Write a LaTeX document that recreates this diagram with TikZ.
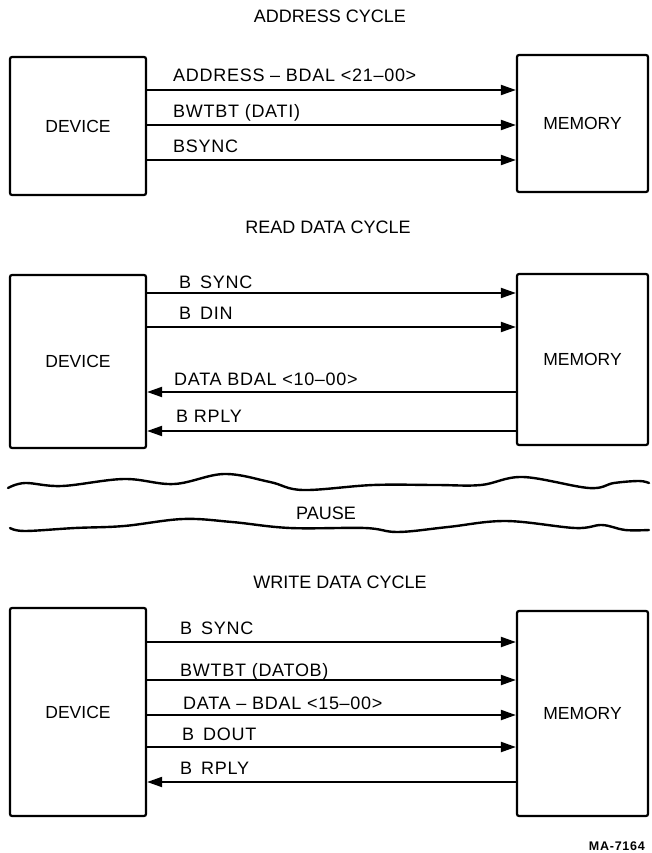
\documentclass[tikz,border=0pt]{standalone}
\usepackage{fontspec}
\setmainfont{Liberation Sans}
\newfontfamily\lblfont[LetterSpace=4]{Liberation Sans}
\usetikzlibrary{arrows.meta}
\begin{document}
\begin{tikzpicture}[x=1pt,y=-1pt,
  box/.style={draw,line width=2.2pt,rounded corners=2pt,inner sep=0pt,font=\fontsize{17.5}{20}\selectfont},
  lbl/.style={anchor=base west,inner sep=0pt,font=\lblfont\fontsize{18}{20}\selectfont},
  ttl/.style={anchor=base,inner sep=0pt,font=\fontsize{18}{20}\selectfont},
  sig/.style={line width=2pt,-{Triangle[length=15pt,width=10pt]}},
  wave/.style={line width=2.4pt,line cap=round}]
\useasboundingbox (0,0) rectangle (652,853);
% titles
\node[ttl] (t1) at (330,23) {ADDRESS CYCLE};
\node[ttl] (t2) at (328,233) {READ DATA CYCLE};
\node[ttl] (t3) at (340,588) {WRITE DATA CYCLE};
% section 1
\node[box,minimum width=136pt,minimum height=138pt] (dev1) at (78,126) {DEVICE};
\node[box,minimum width=131pt,minimum height=137pt] (mem1) at (582.5,123.5) {MEMORY};
\draw[sig] (dev1.east |- 0,90) -- (mem1.west |- 0,90);
\draw[sig] (dev1.east |- 0,125) -- (mem1.west |- 0,125);
\draw[sig] (dev1.east |- 0,160) -- (mem1.west |- 0,160);
\node[lbl] (l11) at (173,82) {ADDRESS – BDAL <21–00>};
\node[lbl] (l12) at (173,118) {BWTBT (DATI)};
\node[lbl] (l13) at (173,153) {BSYNC};
% section 2
\node[box,minimum width=136pt,minimum height=173pt] (dev2) at (78,361.5) {DEVICE};
\node[box,minimum width=131pt,minimum height=171pt] (mem2) at (582.5,359.5) {MEMORY};
\draw[sig] (dev2.east |- 0,293) -- (mem2.west |- 0,293);
\draw[sig] (dev2.east |- 0,327) -- (mem2.west |- 0,327);
\draw[sig] (mem2.west |- 0,392) -- (dev2.east |- 0,392);
\draw[sig] (mem2.west |- 0,431) -- (dev2.east |- 0,431);
\node[lbl] (l21) at (179,288) {B\enspace SYNC};
\node[lbl] (l22) at (179,319) {B\enspace DIN};
\node[lbl] (l23) at (174,385) {DATA BDAL <10–00>};
\node[lbl] (l24) at (176,422) {B RPLY};
% pause
\draw[wave] plot[smooth,tension=0.6] coordinates {(8,488) (25,483) (62,486) (124,479) (174,484) (224,474) (270,482) (303,490) (373,485) (436,485) (481,485) (523,477) (589,488) (614,483) (639,481) (649,483)};
\draw[wave] plot[smooth,tension=0.6] coordinates {(10,528) (25,531) (75,528) (124,526) (183,519) (232,522) (290,528) (365,528) (398,532) (448,527) (506,521) (575,528) (602,525) (625,530) (649,530)};
\node[ttl] (p) at (326,519) {PAUSE};
% section 3
\node[box,minimum width=136pt,minimum height=208pt] (dev3) at (78,712) {DEVICE};
\node[box,minimum width=131pt,minimum height=205pt] (mem3) at (582.5,713.5) {MEMORY};
\draw[sig] (dev3.east |- 0,642) -- (mem3.west |- 0,642);
\draw[sig] (dev3.east |- 0,680) -- (mem3.west |- 0,680);
\draw[sig] (dev3.east |- 0,715) -- (mem3.west |- 0,715);
\draw[sig] (dev3.east |- 0,747) -- (mem3.west |- 0,747);
\draw[sig] (mem3.west |- 0,782) -- (dev3.east |- 0,782);
\node[lbl] (l31) at (180,634) {B\enspace SYNC};
\node[lbl] (l32) at (180,676) {BWTBT (DATOB)};
\node[lbl] (l33) at (183,709) {DATA – BDAL <15–00>};
\node[lbl] (l34) at (182,740) {B\enspace DOUT};
\node[lbl] (l35) at (180,774) {B\enspace RPLY};
% figure id
\node[anchor=base east,inner sep=0pt,font=\fontsize{12.5}{14}\selectfont\bfseries\addfontfeature{LetterSpace=6}] (id) at (645,850) {MA-7164};
\end{tikzpicture}
\end{document}
